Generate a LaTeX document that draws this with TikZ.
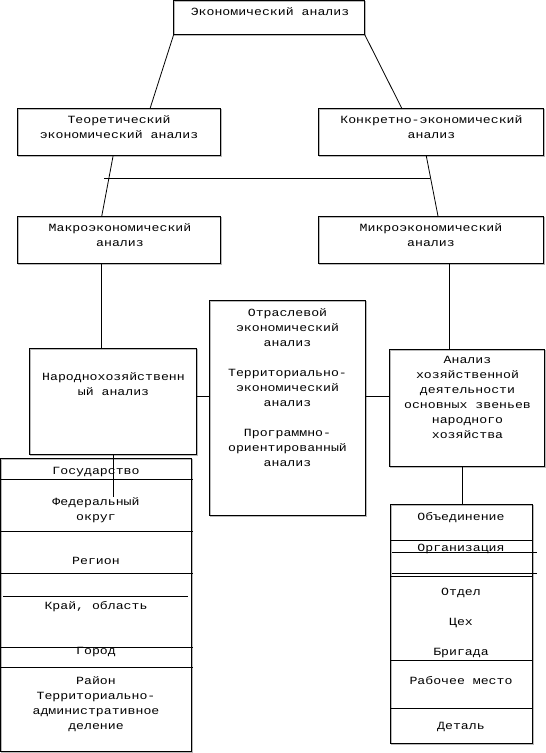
\documentclass[tikz,border=0pt]{standalone}
\usepackage{fontspec}
\newfontfamily\cour[FakeStretch=1.2]{Liberation Mono}
\usetikzlibrary{calc}
\begin{document}
\begin{tikzpicture}[x=1pt,y=-1pt,
  box/.style={draw=black, line width=0.8pt, inner sep=0pt, outer sep=0pt,
    preaction={draw=gray!55, line width=0.9pt, transform canvas={xshift=1pt, yshift=-1pt}}},
  ln/.style={draw=black, line width=0.8pt},
  tx/.style={font={\cour\fontsize{11}{15}\selectfont}, align=center, inner sep=0pt}]
\useasboundingbox (0,0) rectangle (546,753);
% boxes
\node[box, minimum width=191.1pt, minimum height=34pt] (top) at (269.2,17.7) {};
\node[box, minimum width=203pt, minimum height=46.5pt] (teor) at (118.9,132) {};
\node[box, minimum width=225.7pt, minimum height=46.5pt] (konk) at (430.9,132) {};
\node[box, minimum width=203pt, minimum height=46.6pt] (makro) at (118.9,240) {};
\node[box, minimum width=225.7pt, minimum height=46.6pt] (mikro) at (430.9,240) {};
\node[box, minimum width=155.8pt, minimum height=214.3pt] (mid) at (287.1,407.9) {};
\node[box, minimum width=166.5pt, minimum height=106.2pt] (nar) at (112.8,401.4) {};
\node[box, minimum width=154.5pt, minimum height=117.7pt] (anal) at (467,407.9) {};
\node[box, minimum width=191.2pt, minimum height=293.4pt] (lblock) at (96.1,605) {};
\node[box, minimum width=142.7pt, minimum height=239pt] (rblock) at (461.35,623.8) {};
% texts
\node[tx] (t0) at (270,12.3) {\strut Экономический анализ};
\node[tx] (tteor) at (119,127.9) {\strut Теоретический\\\strut экономический анализ};
\node[tx] (tkonk) at (431.5,128.3) {\strut Конкретно-экономический\\\strut анализ};
\node[tx] (tmakro) at (120,235.8) {\strut Макроэкономический\\\strut анализ};
\node[tx] (tmikro) at (431,235.8) {\strut Микроэкономический\\\strut анализ};
\node[tx] (tmid1) at (287.5,328.3) {\strut Отраслевой\\\strut экономический\\\strut анализ};
\node[tx] (tmid2) at (287.5,388.3) {\strut Территориально-\\\strut экономический\\\strut анализ};
\node[tx] (tmid3) at (287.5,448) {\strut Программно-\\\strut ориентированный\\\strut анализ};
\node[tx] (tnar) at (113.5,384.5) {\strut Народнохозяйственн\\\strut ый анализ};
\node[tx] (tanal) at (467.5,398.2) {\strut Анализ\\\strut хозяйственной\\\strut деятельности\\\strut основных звеньев\\\strut народного\\\strut хозяйства};
% left block texts
\node[tx] (tgos) at (96,471.7) {\strut Государство};
\node[tx] (tfed) at (96,509.8) {\strut Федеральный\\\strut округ};
\node[tx] (treg) at (96,561) {\strut Регион};
\node[tx] (tkray) at (96,606) {\strut Край, область};
\node[tx] (tgor) at (96,651.7) {\strut Город};
\node[tx] (trai) at (96,704) {\strut Район\\\strut Территориально-\\\strut административное\\\strut деление};
% right block texts
\node[tx] (tobj) at (461,517.3) {\strut Объединение};
\node[tx] (torg) at (461,548.3) {\strut Организация};
\node[tx] (totd) at (461,592.3) {\strut Отдел};
\node[tx] (tcex) at (461,622.8) {\strut Цех};
\node[tx] (tbrig) at (461,652.7) {\strut Бригада};
\node[tx] (trab) at (461,681.7) {\strut Рабочее место};
\node[tx] (tdet) at (461,726.7) {\strut Деталь};
% connectors
\draw[ln] (top.south west) -- ($(teor.north west)!0.653!(teor.north east)$);
\draw[ln] (top.south east) -- ($(konk.north west)!0.372!(konk.north east)$);
\draw[ln] ($(teor.south west)!0.472!(teor.south east)$) -- ($(makro.north west)!0.415!(makro.north east)$);
\draw[ln] ($(konk.south west)!0.479!(konk.south east)$) -- ($(mikro.north west)!0.532!(mikro.north east)$);
\coordinate (hl) at (104.3,178.3);
\coordinate (hr) at (430,178.3);
\draw[ln] (hl) -- (hr);
\coordinate (lx) at (101.6,0);
\coordinate (rx) at (449.8,0);
\coordinate (bx) at (462,0);
\coordinate (cy) at (0,396.7);
\draw[ln] (lx |- makro.south) -- (lx |- nar.north);
\draw[ln] (rx |- mikro.south) -- (rx |- anal.north);
\draw[ln] (cy -| nar.east) -- (cy -| mid.west);
\draw[ln] (cy -| mid.east) -- (cy -| anal.west);
\draw[ln] (bx |- anal.south) -- (bx |- rblock.north);
\coordinate (nx) at (113.3,496.7);
\draw[ln] (nx |- nar.south) -- (nx);
% left block rules
\draw[ln] (0,479.3) -- (192.7,479.3);
\draw[ln] (0,531) -- (192.7,531);
\draw[ln] (0,573.3) -- (192.7,573.3);
\draw[ln] (3.3,596) -- (187.7,596);
\draw[ln] (0,647.3) -- (192.7,647.3);
\draw[ln] (0,667.3) -- (192.7,667.3);
% right block rules
\draw[ln] (390,540.3) -- (533.3,540.3);
\draw[ln] (392.3,552) -- (536.7,552);
\draw[ln] (392.3,573.7) -- (536.7,573.7);
\draw[ln] (390,576.7) -- (533.3,576.7);
\draw[ln] (390,660.3) -- (533.3,660.3);
\draw[ln] (390,708.3) -- (533.3,708.3);
\end{tikzpicture}
\end{document}
